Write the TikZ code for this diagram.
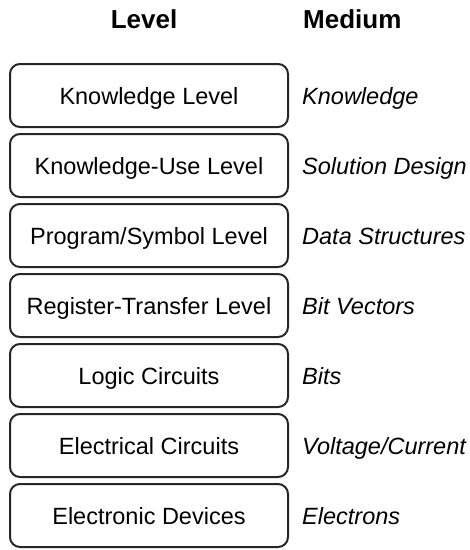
\documentclass[tikz,border=0pt]{standalone}
\usepackage{fontspec}
\setmainfont{Liberation Sans}
\begin{document}
\begin{tikzpicture}[x=1pt,y=-1pt,
  levelbox/.style={draw=black!85, line width=2pt, rounded corners=10pt,
    minimum width=278pt, minimum height=63pt, inner sep=0pt,
    text height=17pt, text depth=0pt,
    font=\fontsize{23.5}{28}\selectfont},
  medium/.style={anchor=west, inner sep=0pt, text height=17pt, text depth=0pt,
    font=\fontsize{23.5}{28}\selectfont\itshape},
  header/.style={inner sep=0pt, text height=18pt, text depth=0pt,
    font=\fontsize{26}{30}\selectfont\bfseries}]
\useasboundingbox (0,0) rectangle (470,550);

% column headings
\node[header] (hlevel) at (144,19) {Level};
\node[header, anchor=west] (hmedium) at (303,19) {Medium};

% levels and their media
\foreach \i/\lvl/\med in {
  0/Knowledge Level/Knowledge,
  1/Knowledge-Use Level/Solution Design,
  2/Program\slash Symbol Level/Data Structures,
  3/Register-Transfer Level/Bit Vectors,
  4/Logic Circuits/Bits,
  5/Electrical Circuits/Voltage\slash Current,
  6/Electronic Devices/Electrons}{
  \node[levelbox] (lv\i) at (149,{95.5+70*\i}) {\lvl};
  \node[medium] (md\i) at (302,{95.5+70*\i}) {\med};
}
\end{tikzpicture}
\end{document}
